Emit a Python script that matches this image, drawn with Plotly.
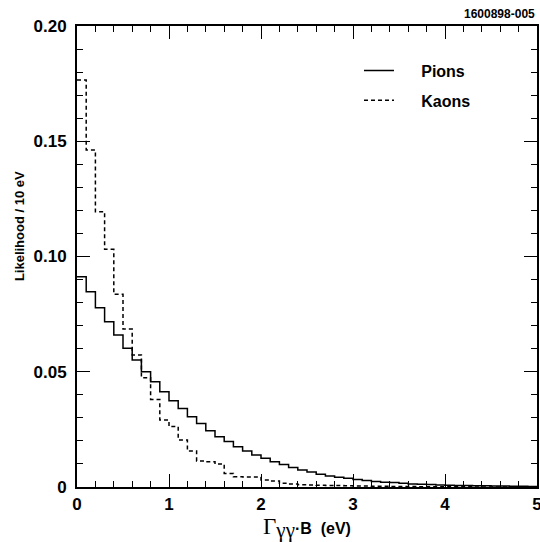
import plotly.graph_objects as go

# ---- data ----
bin_width = 0.1
bin_edges = [round(i * bin_width, 2) for i in range(51)]

pions = [0.0912, 0.0847, 0.0778, 0.0717, 0.0659, 0.0602, 0.0551, 0.0500, 0.0457, 0.0413,
         0.0374, 0.0341, 0.0305, 0.0276, 0.0244, 0.0218, 0.0197, 0.0175, 0.0156, 0.0139,
         0.0125, 0.0110, 0.0098, 0.0085, 0.0074, 0.0065, 0.0055, 0.0048, 0.0042, 0.0038,
         0.0032, 0.0028, 0.0024, 0.0021, 0.0019, 0.0016, 0.0013, 0.0012, 0.0011, 0.0009,
         0.0008, 0.0007, 0.0006, 0.0005, 0.0005, 0.0004, 0.0004, 0.0003, 0.0003, 0.0002]

kaons = [0.1766, 0.1462, 0.1194, 0.1031, 0.0836, 0.0685, 0.0573, 0.0474, 0.0380, 0.0291,
         0.0262, 0.0204, 0.0156, 0.0113, 0.0110, 0.0100, 0.0059, 0.0045, 0.0043, 0.0043,
         0.0030, 0.0026, 0.0016, 0.0013, 0.0010, 0.0009, 0.0008, 0.0007, 0.0006, 0.0005,
         0.0004, 0.0004, 0.0003, 0.0003, 0.0002, 0.0002, 0.0002, 0.0001, 0.0001, 0.0001,
         0.0001, 0.0001, 0.0001, 0.0000, 0.0000, 0.0000, 0.0000, 0.0000, 0.0000, 0.0000]

x_tickvals = [0, 1, 2, 3, 4, 5]
x_ticktext = ["0", "1", "2", "3", "4", "5"]
y_tickvals = [0, 0.05, 0.10, 0.15, 0.20]
y_ticktext = ["0", "0.05", "0.10", "0.15", "0.20"]

FONT = "Arial, Liberation Sans, Helvetica, sans-serif"
SERIF = "Liberation Serif, Times New Roman, serif"
PAD = "\u00a0\u00a0\u00a0\u00a0\u00a0"

fig = go.Figure()
fig.add_trace(go.Scatter(x=bin_edges, y=pions + [pions[-1]], mode="lines", line_shape="hv",
                         name=PAD + "Pions", legendgroup="pi",
                         line=dict(color="black", width=1.5)))
fig.add_trace(go.Scatter(x=bin_edges, y=kaons + [kaons[-1]], mode="lines", line_shape="hv",
                         name=PAD + "Kaons", legendgroup="ka",
                         line=dict(color="black", width=1.5, dash="4px,3px")))

axis_common = dict(
    showline=True, linecolor="black", linewidth=2, mirror="allticks",
    ticks="inside", ticklen=13, tickwidth=1.3, tickcolor="black",
    showgrid=False, zeroline=False, ticklabeloverflow="allow",
    tickfont=dict(family=FONT, size=17, color="black", weight="bold"),
)

xtitle = ("<span style='font-family:%s;font-size:23px;font-weight:normal'>Γ</span>"
          "<sub><span style='font-family:%s;font-size:21px;font-weight:normal'>γγ</span></sub>"
          "·B  (eV)") % (SERIF, SERIF)

fig.update_xaxes(range=[0, 5], tickvals=x_tickvals, ticktext=x_ticktext,
                 minor=dict(dtick=0.2, ticks="inside", ticklen=6, tickwidth=1.3, tickcolor="black"),
                 title=dict(text=xtitle,
                            font=dict(family=FONT, size=16, color="black", weight="bold"),
                            standoff=7),
                 ticklabelstandoff=1,
                 **axis_common)
fig.update_yaxes(range=[0, 0.2], tickvals=y_tickvals, ticktext=y_ticktext,
                 minor=dict(dtick=0.01, ticks="inside", ticklen=6, tickwidth=1.3, tickcolor="black"),
                 ticklabelstandoff=5,
                 **axis_common)

fig.add_annotation(text="Likelihood / 10 eV", xref="paper", yref="paper",
                   x=-0.126, y=0.566, textangle=-90, showarrow=False,
                   xanchor="center", yanchor="middle",
                   font=dict(family=FONT, size=13, color="black", weight="bold"))
fig.add_annotation(text="1600898-005", xref="paper", yref="paper",
                   x=1.0, y=1.0, yshift=3, xanchor="right", yanchor="bottom", showarrow=False,
                   font=dict(family=FONT, size=12, color="black", weight="bold"))

fig.update_layout(
    width=540, height=542,
    margin=dict(l=77, r=3, t=26, b=55, autoexpand=False),
    paper_bgcolor="white", plot_bgcolor="white",
    showlegend=True,
    legend=dict(x=0.613, y=0.94, xanchor="left", yanchor="top",
                bgcolor="rgba(0,0,0,0)", itemwidth=30, tracegroupgap=6,
                font=dict(family=FONT, size=16, color="black", weight="bold")),
)

fig.write_html("out.html", config={"displayModeBar": False},
               post_script="document.body.style.margin='0px';")
